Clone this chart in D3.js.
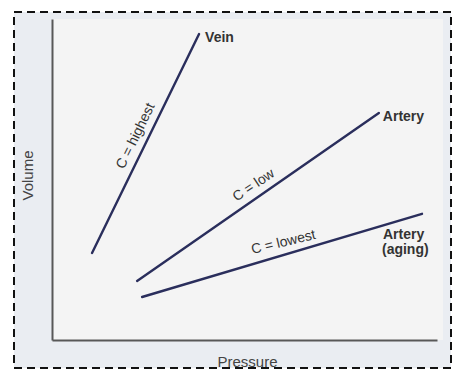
<!DOCTYPE html>
<html>
<head>
<meta charset="utf-8">
<script src="https://cdn.jsdelivr.net/npm/d3@7"></script>
<style>
  body { margin: 0; background: #fff; }
  text { font-family: "Liberation Sans", Arial, sans-serif; }
</style>
</head>
<body>
<div id="drawing"></div>
<script>
// compliance curves, volume vs pressure (arbitrary units 0-100)
var vessels = ["Vein", "Artery", "Artery (aging)"];
var compliance = ["C = highest", "C = low", "C = lowest"];
var pressureStart = [10.4, 22.1, 23.4];
var pressureEnd = [38.2, 84.9, 96.1];
var volumeStart = [27.1, 18.4, 13.4];
var volumeEnd = [95.3, 70.7, 39.3];
var axisTitles = ["Pressure", "Volume"];

var width = 461;
var height = 374;
var margin = {top: 19, right: 24, bottom: 34, left: 52};

var svg = d3.select("#drawing").append("svg")
  .attr("width", width)
  .attr("height", height);

var xScale = d3.scaleLinear().domain([0, 100]).range([margin.left, width - margin.right]);
var yScale = d3.scaleLinear().domain([0, 100]).range([height - margin.bottom, margin.top]);

// panel + plot background
svg.append("rect")
  .attr("x", 14).attr("y", 12)
  .attr("width", 437).attr("height", 356)
  .style("fill", "#eaedf2");

svg.append("rect")
  .attr("x", xScale(0)).attr("y", yScale(100))
  .attr("width", xScale(100) - xScale(0) + 6)
  .attr("height", yScale(0) - yScale(100))
  .style("fill", "#f4f4f4");

// axes: plain lines, no ticks
var xAxis = d3.axisBottom(xScale).tickValues([]).tickSizeOuter(0);
var yAxis = d3.axisLeft(yScale).tickValues([]).tickSizeOuter(0);

svg.append("g")
  .attr("transform", `translate(0, ${yScale(0)})`)
  .call(xAxis)
  .select(".domain").style("stroke", "#585858").style("stroke-width", 2);

svg.append("g")
  .attr("transform", `translate(${xScale(0)}, 0)`)
  .call(yAxis)
  .select(".domain").style("stroke", "#585858").style("stroke-width", 2);

svg.append("text")
  .attr("x", (xScale(0) + xScale(100)) / 2 + 3)
  .attr("y", 367)
  .attr("text-anchor", "middle")
  .style("font-size", "15px")
  .style("fill", "#444")
  .text(axisTitles[0]);

svg.append("text")
  .attr("transform", `translate(33, ${yScale(50) - 4}) rotate(-90)`)
  .attr("text-anchor", "middle")
  .style("font-size", "15px")
  .style("fill", "#444")
  .text(axisTitles[1]);

var rows = vessels.map((v, i) => ({
  name: v,
  c: compliance[i],
  p0: pressureStart[i], p1: pressureEnd[i],
  v0: volumeStart[i], v1: volumeEnd[i]
}));

var line = d3.line().x(d => xScale(d[0])).y(d => yScale(d[1]));

svg.selectAll(".curve").data(rows).enter().append("path")
  .attr("class", "curve")
  .attr("d", d => line([[d.p0, d.v0], [d.p1, d.v1]]))
  .style("fill", "none")
  .style("stroke", "#2a2e5c")
  .style("stroke-width", 2.4)
  .style("stroke-linecap", "round");

// end labels
var endOffset = [[6, 8], [4, 8], [-39, 25]];
rows.forEach((d, i) => {
  var t = svg.append("text")
    .attr("x", xScale(d.p1) + endOffset[i][0])
    .attr("y", yScale(d.v1) + endOffset[i][1])
    .style("font-size", "14px")
    .style("font-weight", "bold")
    .style("fill", "#333");
  var parts = d.name.split(" ");
  if (parts.length > 1) {
    t.append("tspan").attr("x", xScale(d.p1) + endOffset[i][0]).text(parts[0]);
    t.append("tspan").attr("x", xScale(d.p1) + endOffset[i][0] - 1).attr("dy", 15).text(parts.slice(1).join(" "));
  } else {
    t.text(d.name);
  }
});

// compliance labels along the lines
var along = [0.51, 0.51, 0.515];
var gap = [8, 8, 8];
var tilt = [0, 1, 3];
rows.forEach((d, i) => {
  var x0 = xScale(d.p0), y0 = yScale(d.v0), x1 = xScale(d.p1), y1 = yScale(d.v1);
  var ang = Math.atan2(y1 - y0, x1 - x0) * 180 / Math.PI + tilt[i];
  var cx = x0 + (x1 - x0) * along[i], cy = y0 + (y1 - y0) * along[i];
  svg.append("text")
    .attr("transform", `translate(${cx}, ${cy}) rotate(${ang})`)
    .attr("y", -gap[i])
    .attr("text-anchor", "middle")
    .style("font-size", "14px")
    .style("fill", "#333")
    .text(d.c);
});

// dashed frame
svg.append("rect")
  .attr("x", 14).attr("y", 12)
  .attr("width", 437).attr("height", 356)
  .style("fill", "none")
  .style("stroke", "#111")
  .style("stroke-width", 2)
  .style("stroke-dasharray", "8,5");
</script>
</body>
</html>
